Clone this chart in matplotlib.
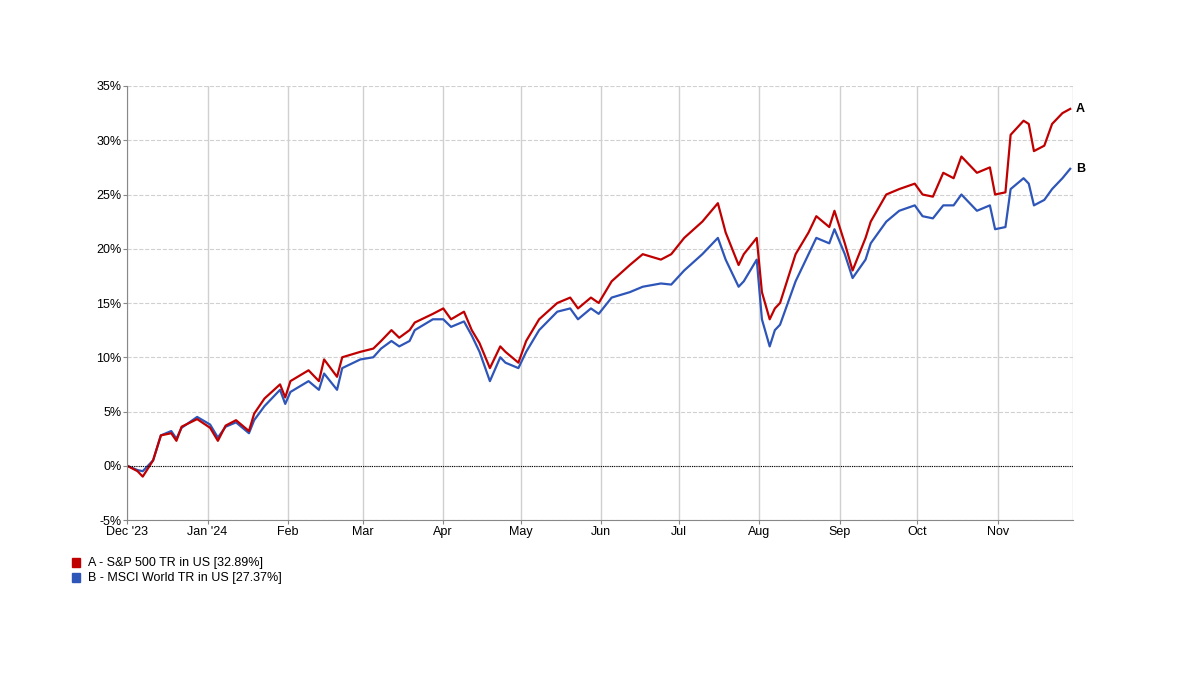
import numpy as np
import pandas as pd
import matplotlib
matplotlib.use('Agg')
import matplotlib.pyplot as plt
import matplotlib.dates as mdates

plt.rcParams['font.family'] = ['Liberation Sans', 'DejaVu Sans']

dates = ['2023-12-01', '2023-12-05', '2023-12-07', '2023-12-11', '2023-12-14', '2023-12-18',
         '2023-12-20', '2023-12-22', '2023-12-28', '2024-01-02', '2024-01-05', '2024-01-08',
         '2024-01-12', '2024-01-17', '2024-01-19', '2024-01-23', '2024-01-29', '2024-01-31',
         '2024-02-02', '2024-02-09', '2024-02-13', '2024-02-15', '2024-02-20', '2024-02-22',
         '2024-02-29', '2024-03-05', '2024-03-08', '2024-03-12', '2024-03-15', '2024-03-19',
         '2024-03-21', '2024-03-28', '2024-04-01', '2024-04-04', '2024-04-09', '2024-04-12',
         '2024-04-15', '2024-04-19', '2024-04-23', '2024-04-25', '2024-04-30', '2024-05-03',
         '2024-05-08', '2024-05-15', '2024-05-20', '2024-05-23', '2024-05-28', '2024-05-31',
         '2024-06-05', '2024-06-12', '2024-06-17', '2024-06-24', '2024-06-28', '2024-07-03',
         '2024-07-10', '2024-07-16', '2024-07-19', '2024-07-24', '2024-07-26', '2024-07-31',
         '2024-08-02', '2024-08-05', '2024-08-07', '2024-08-09', '2024-08-15', '2024-08-20',
         '2024-08-23', '2024-08-28', '2024-08-30', '2024-09-03', '2024-09-06', '2024-09-11',
         '2024-09-13', '2024-09-19', '2024-09-24', '2024-09-30', '2024-10-03', '2024-10-07',
         '2024-10-11', '2024-10-15', '2024-10-18', '2024-10-24', '2024-10-29', '2024-10-31',
         '2024-11-04', '2024-11-06', '2024-11-11', '2024-11-13', '2024-11-15', '2024-11-19',
         '2024-11-22', '2024-11-26', '2024-11-29']

sp500 = [0, -0.5, -1.0, 0.5, 2.8, 3.0, 2.3, 3.6, 4.3, 3.5, 2.3, 3.7,
         4.2, 3.2, 4.8, 6.2, 7.5, 6.3, 7.8, 8.8, 7.8, 9.8, 8.2, 10.0,
         10.5, 10.8, 11.5, 12.5, 11.8, 12.5, 13.2, 14.0, 14.5, 13.5, 14.2, 12.5,
         11.3, 9.0, 11.0, 10.5, 9.5, 11.5, 13.5, 15.0, 15.5, 14.5, 15.5, 15.0,
         17.0, 18.5, 19.5, 19.0, 19.5, 21.0, 22.5, 24.2, 21.5, 18.5, 19.5, 21.0,
         16.0, 13.5, 14.5, 15.0, 19.5, 21.5, 23.0, 22.0, 23.5, 20.5, 18.0, 21.0,
         22.5, 25.0, 25.5, 26.0, 25.0, 24.8, 27.0, 26.5, 28.5, 27.0, 27.5, 25.0,
         25.2, 30.5, 31.8, 31.5, 29.0, 29.5, 31.5, 32.5, 32.89]

msci = [0, -0.4, -0.5, 0.5, 2.8, 3.2, 2.5, 3.5, 4.5, 3.8, 2.6, 3.6,
        4.0, 3.0, 4.2, 5.5, 7.0, 5.7, 6.8, 7.8, 7.0, 8.5, 7.0, 9.0,
        9.8, 10.0, 10.8, 11.5, 11.0, 11.5, 12.5, 13.5, 13.5, 12.8, 13.3, 12.0,
        10.5, 7.8, 10.0, 9.5, 9.0, 10.5, 12.5, 14.2, 14.5, 13.5, 14.5, 14.0,
        15.5, 16.0, 16.5, 16.8, 16.7, 18.0, 19.5, 21.0, 19.0, 16.5, 17.0, 19.0,
        13.5, 11.0, 12.5, 13.0, 17.0, 19.5, 21.0, 20.5, 21.8, 19.5, 17.3, 19.0,
        20.5, 22.5, 23.5, 24.0, 23.0, 22.8, 24.0, 24.0, 25.0, 23.5, 24.0, 21.8,
        22.0, 25.5, 26.5, 26.0, 24.0, 24.5, 25.5, 26.5, 27.37]

month_ticks = ['2023-12-01', '2024-01-01', '2024-02-01', '2024-03-01', '2024-04-01', '2024-05-01',
               '2024-06-01', '2024-07-01', '2024-08-01', '2024-09-01', '2024-10-01', '2024-11-01']
month_labels = ["Dec '23", "Jan '24", 'Feb', 'Mar', 'Apr', 'May', 'Jun', 'Jul', 'Aug', 'Sep', 'Oct', 'Nov']

x = pd.to_datetime(dates)
red = '#c00000'
blue = '#2e55b8'

fig = plt.figure(figsize=(12, 6.75), dpi=100)
ax = fig.add_axes([0.106, 0.2296, 0.788, 0.643])

ax.plot(x, msci, color=blue, lw=1.6)
ax.plot(x, sp500, color=red, lw=1.6)
ax.axhline(0, color='black', lw=0.8, ls=(0, (1, 1)))

ax.set_xlim(pd.Timestamp('2023-12-01'), pd.Timestamp('2024-11-30'))
ax.set_ylim(-5, 35)
ax.set_yticks(range(-5, 36, 5))
ax.set_yticklabels([f'{v}%' for v in range(-5, 36, 5)])
ax.set_xticks(pd.to_datetime(month_ticks))
ax.set_xticklabels(month_labels)
ax.tick_params(labelsize=9, length=3, color='#888888', pad=1)

ax.grid(axis='x', color='#d0d0d0', lw=1)
ax.grid(axis='y', color='#d0d0d0', lw=0.8, ls='--')
for s in ['top', 'right']:
    ax.spines[s].set_visible(False)
for s in ['left', 'bottom']:
    ax.spines[s].set_color('#888888')
ax.axvline(pd.Timestamp('2024-11-30'), color='#d0d0d0', lw=1)

ax.text(1.003, sp500[-1], 'A', transform=ax.get_yaxis_transform(), fontsize=9,
        fontweight='bold', va='center')
ax.text(1.003, msci[-1], 'B', transform=ax.get_yaxis_transform(), fontsize=9,
        fontweight='bold', va='center')

# legend
fig.patches.append(plt.Rectangle((0.060, 0.160), 0.007, 0.013, color=red, transform=fig.transFigure))
fig.patches.append(plt.Rectangle((0.060, 0.138), 0.007, 0.013, color=blue, transform=fig.transFigure))
fig.text(0.073, 0.166, 'A - S&P 500 TR in US [32.89%]', fontsize=9, va='center')
fig.text(0.073, 0.144, 'B - MSCI World TR in US [27.37%]', fontsize=9, va='center')

fig.savefig('out.png', dpi=100)
